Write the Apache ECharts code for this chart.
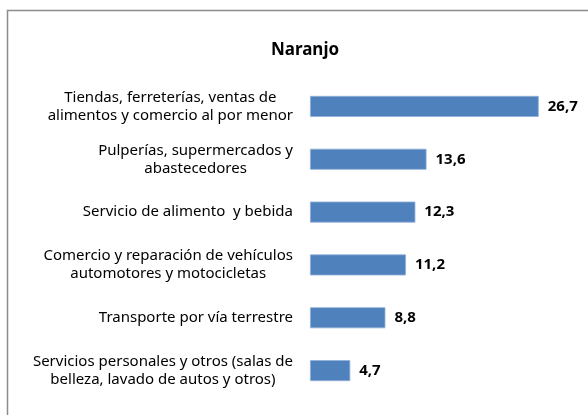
<!DOCTYPE html>
<html>
<head>
<meta charset="utf-8">
<script src="https://cdn.jsdelivr.net/npm/echarts@6/dist/echarts.min.js"></script>
<style>
  html, body { margin: 0; padding: 0; background: #fff; }
  #chart { width: 588px; height: 415px; }
</style>
</head>
<body>
<div id="chart"></div>
<script>
// datos del gráfico (de arriba hacia abajo)
const categories = [
  "Tiendas, ferreterías, ventas de\nalimentos y comercio al por menor",
  "Pulperías, supermercados y\nabastecedores",
  "Servicio de alimento  y bebida",
  "Comercio y reparación de vehículos\nautomotores y motocicletas",
  "Transporte por vía terrestre",
  "Servicios personales y otros (salas de\nbelleza, lavado de autos y otros)"
];
const values = [26.7, 13.6, 12.3, 11.2, 8.8, 4.7];

const chart = echarts.init(document.getElementById("chart"));

const option = {
  animation: false,
  textStyle: { fontFamily: "Noto Sans" },
  title: {
    text: "Naranjo",
    left: 300,
    textAlign: "center",
    top: 37,
    textStyle: { fontSize: 17, fontWeight: "bold", color: "#000", fontFamily: "Noto Sans" }
  },
  graphic: [
    {
      type: "polyline",
      shape: { points: [[7.5, 420], [7.5, 10.5], [600, 10.5]] },
      style: { stroke: "#8c8c8c", lineWidth: 1.5, fill: null }
    }
  ],
  grid: { left: 310, top: 80, width: 257, height: 317 },
  xAxis: {
    type: "value",
    min: 0,
    max: 30,
    show: false
  },
  yAxis: {
    type: "category",
    inverse: true,
    data: categories,
    axisLine: { show: false },
    axisTick: { show: false },
    axisLabel: {
      margin: 17,
      color: "#000",
      fontSize: 15,
      lineHeight: 18,
      formatter: (v) => v.split("\n").map((l) => "{a|" + l + "}").join("\n"),
      rich: { a: { align: "center", fontSize: 15, lineHeight: 18, color: "#000", fontFamily: "Noto Sans" } }
    }
  },
  series: [
    {
      type: "bar",
      data: values,
      barWidth: 21,
      itemStyle: { color: "#4f81bd", borderColor: "#8fb0d8", borderWidth: 0.8 },
      label: {
        show: true,
        position: "right",
        distance: 9,
        color: "#000",
        fontSize: 15,
        fontWeight: "bold",
        fontFamily: "Noto Sans",
        formatter: (p) => p.value.toFixed(1).replace(".", ",")
      }
    }
  ]
};

chart.setOption(option);
</script>
</body>
</html>
